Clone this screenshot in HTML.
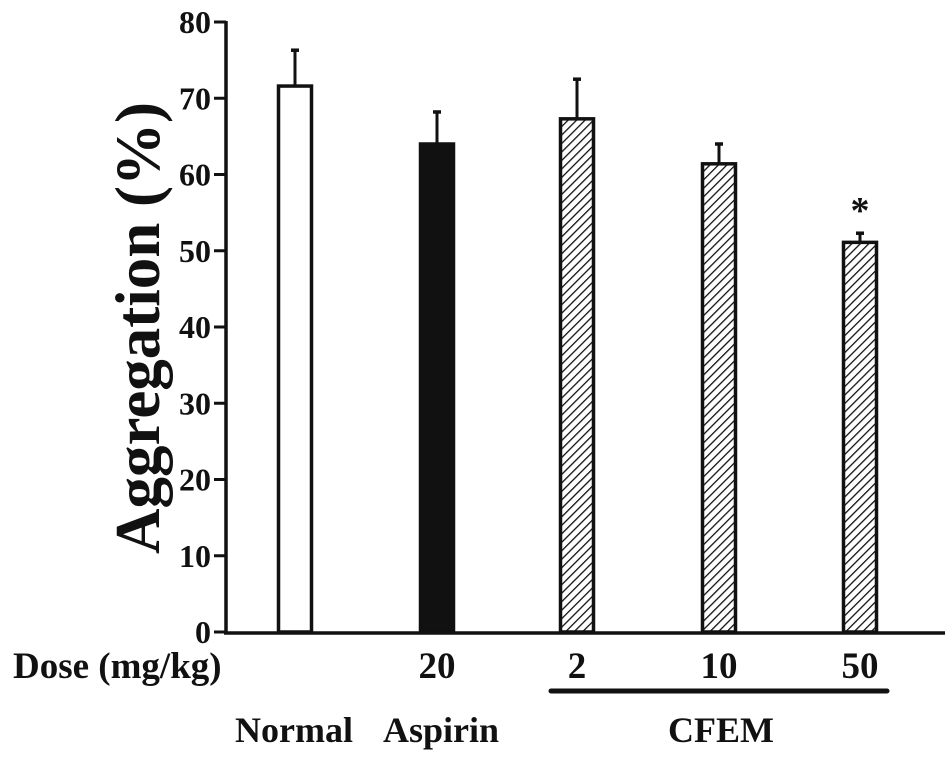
<!DOCTYPE html>
<html><head><meta charset="utf-8"><style>
html,body{margin:0;padding:0;background:#fff;width:945px;height:764px;overflow:hidden}
svg text{font-family:"Liberation Serif",serif;font-weight:bold;fill:#111}
</style></head><body>
<svg id="chart" width="945" height="764" viewBox="0 0 945 764" xmlns="http://www.w3.org/2000/svg">
<defs>
<pattern id="hatch" patternUnits="userSpaceOnUse" width="6" height="6" patternTransform="rotate(45)">
<rect width="6" height="6" fill="#fff"/><line x1="0" y1="0" x2="0" y2="6" stroke="#111" stroke-width="2.6"/>
</pattern>
</defs>
<g id="plot"></g>
</svg>
<script>
const categories = ["Normal","Aspirin","CFEM 2","CFEM 10","CFEM 50"];
const values = [71.6, 64.0, 67.3, 61.4, 51.1];
const errors = [76.3, 68.2, 72.5, 64.0, 52.3];
const doseLabels = ["", "20", "2", "10", "50"];
const yTicks = [0,10,20,30,40,50,60,70,80];
const significant = [false,false,false,false,true];

const NS="http://www.w3.org/2000/svg";
const g=document.getElementById('plot');
function y(v){return 632 - v*7.625;}
function xc(i){return [295,437,577,719,860][i];}
function mk(tag,attrs){const e=document.createElementNS(NS,tag);for(const k in attrs)e.setAttribute(k,attrs[k]);g.appendChild(e);return e;}
const fills=["#fff","#111","url(#hatch)","url(#hatch)","url(#hatch)"];
const bw=33;
categories.forEach((c,i)=>{
  const el=mk('line',{x1:xc(i),x2:xc(i),y1:y(values[i]),y2:y(errors[i]),stroke:'#111','stroke-width':3});
  
  
  const cap=mk('line',{x1:xc(i)-4,x2:xc(i)+4,y1:y(errors[i]),y2:y(errors[i]),stroke:'#111','stroke-width':3.5});
  
  
  const r=mk('rect',{x:xc(i)-bw/2,y:y(values[i]),width:bw,height:y(0)-y(values[i]),fill:fills[i],stroke:'#111','stroke-width':3.5});
  
  
  if(doseLabels[i]){
    const t=mk('text',{x:xc(i),y:678,'text-anchor':'middle','font-size':37});
    t.textContent=doseLabels[i];
    
    
  }
  if(significant[i]){
    const s=mk('text',{x:xc(i),y:y(errors[i])-10,'text-anchor':'middle','font-size':38});
    s.textContent='*';
    
    
  }
});
const ya=mk('line',{x1:226,x2:226,y1:y(80)-1,y2:y(0)+2,stroke:'#111','stroke-width':3.5});


const xa=mk('line',{x1:224,x2:945,y1:y(0)+1,y2:y(0)+1,stroke:'#111','stroke-width':3.5});


yTicks.forEach(v=>{
  const tk=mk('line',{x1:214,x2:226,y1:y(v),y2:y(v),stroke:'#111','stroke-width':3});
  
  
  const t=mk('text',{x:211,y:y(v)+11,'text-anchor':'end','font-size':32});
  t.textContent=v;
  
  
});
const yt=mk('text',{x:0,y:0,'text-anchor':'middle','font-size':63,transform:'translate(159,328) rotate(-90)'});
yt.textContent='Aggregation (%)';


const dl=mk('text',{x:13,y:678,'font-size':37});
dl.textContent='Dose (mg/kg)';


const ul=mk('line',{x1:551,x2:887,y1:691,y2:691,stroke:'#111','stroke-width':5,'stroke-linecap':'round'});


[["Normal",294],["Aspirin",441],["CFEM",721]].forEach(([s,x])=>{
  const t=mk('text',{x:x,y:742,'text-anchor':'middle','font-size':36});
  t.textContent=s;
  
  
});
</script>
</body></html>
